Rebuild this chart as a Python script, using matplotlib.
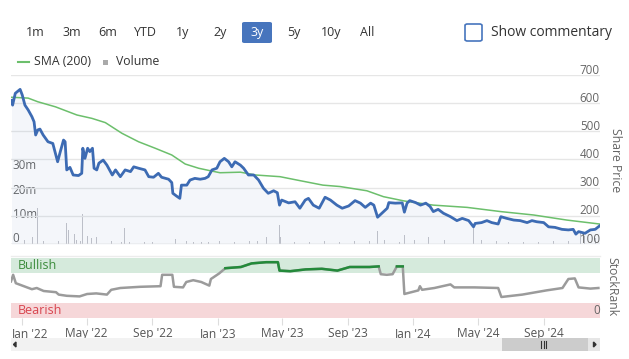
import matplotlib.pyplot as plt
from matplotlib.patches import Rectangle, FancyBboxPatch, Polygon
from matplotlib.lines import Line2D
from matplotlib.transforms import ScaledTranslation
import numpy as np
import pandas as pd

# share price
price_dates = [
    '2021-12-12', '2021-12-14', '2021-12-19', '2021-12-28', '2022-01-01', '2022-01-06',
    '2022-01-12', '2022-01-19', '2022-01-23', '2022-01-26', '2022-01-30', '2022-02-03',
    '2022-02-09', '2022-02-18', '2022-02-27', '2022-03-08', '2022-03-13', '2022-03-19',
    '2022-03-22', '2022-03-25', '2022-03-31', '2022-04-06', '2022-04-16', '2022-04-22',
    '2022-04-24', '2022-04-28', '2022-05-03', '2022-05-07', '2022-05-12', '2022-05-15',
    '2022-05-20', '2022-05-24', '2022-06-01', '2022-06-08', '2022-06-18', '2022-06-24',
    '2022-07-03', '2022-07-12', '2022-07-22', '2022-07-28', '2022-08-06', '2022-08-18',
    '2022-08-25', '2022-09-03', '2022-09-12', '2022-09-18', '2022-10-01', '2022-10-07',
    '2022-10-09', '2022-10-16', '2022-10-22', '2022-10-25', '2022-11-04', '2022-11-10',
    '2022-11-19', '2022-11-29', '2022-12-08', '2022-12-14', '2022-12-21', '2022-12-30',
    '2023-01-05', '2023-01-13', '2023-01-21', '2023-01-27', '2023-02-02', '2023-02-12',
    '2023-02-18', '2023-02-27', '2023-03-09', '2023-03-18', '2023-03-27', '2023-04-05',
    '2023-04-15', '2023-04-22', '2023-04-26', '2023-04-30', '2023-05-13', '2023-05-25',
    '2023-06-03', '2023-06-13', '2023-06-19', '2023-06-28', '2023-07-09', '2023-07-20',
    '2023-07-30', '2023-08-11', '2023-08-21', '2023-09-02', '2023-09-14', '2023-09-24',
    '2023-10-03', '2023-10-13', '2023-10-19', '2023-10-26', '2023-11-03', '2023-11-13',
    '2023-11-16', '2023-11-28', '2023-12-11', '2023-12-15', '2023-12-20', '2023-12-25',
    '2024-01-05', '2024-01-14', '2024-01-24', '2024-02-01', '2024-02-07', '2024-02-16',
    '2024-02-26', '2024-03-10', '2024-03-22', '2024-04-01', '2024-04-13', '2024-04-22',
    '2024-04-25', '2024-05-07', '2024-05-17', '2024-05-26', '2024-06-07', '2024-06-12',
    '2024-06-23', '2024-07-06', '2024-07-18', '2024-07-31', '2024-08-09', '2024-08-18',
    '2024-08-31', '2024-09-09', '2024-09-21', '2024-10-04', '2024-10-16', '2024-10-25',
    '2024-10-30', '2024-11-04', '2024-11-16', '2024-11-26', '2024-12-05', '2024-12-13',
]
price = [
    610, 593, 635, 649, 629, 593,
    576, 552, 534, 487, 505, 508,
    487, 463, 457, 392, 428, 469,
    463, 363, 372, 345, 343, 351,
    440, 404, 440, 428, 440, 369,
    363, 387, 398, 380, 345, 363,
    339, 363, 357, 374, 369, 363,
    339, 337, 351, 337, 330, 318,
    280, 270, 262, 309, 309, 327,
    333, 330, 333, 339, 363, 369,
    392, 404, 392, 374, 392, 380,
    369, 345, 345, 327, 298, 280,
    289, 282, 238, 256, 246, 250,
    227, 256, 262, 238, 227, 266,
    256, 238, 227, 235, 254, 245,
    230, 245, 238, 195, 209, 227,
    247, 245, 246, 213, 245, 254,
    247, 238, 245, 233, 215, 223,
    209, 197, 183, 191, 183, 161,
    173, 176, 183, 176, 171, 197,
    191, 185, 183, 176, 183, 179,
    176, 161, 159, 152, 150, 152,
    135, 144, 138, 150, 152, 164,
]

# 200 day simple moving average
sma_dates = [
    '2021-12-11', '2022-01-12', '2022-01-30', '2022-03-04', '2022-04-13', '2022-05-11',
    '2022-06-05', '2022-07-06', '2022-08-06', '2022-09-06', '2022-10-07', '2022-11-01',
    '2022-11-26', '2022-12-18', '2023-01-05', '2023-02-12', '2023-03-12', '2023-04-27',
    '2023-06-03', '2023-07-16', '2023-08-17', '2023-10-06', '2023-11-06', '2023-12-14',
    '2024-02-07', '2024-04-10', '2024-06-12', '2024-08-12', '2024-10-13', '2024-12-13',
]
sma = [
    621, 618, 605, 587, 558, 546,
    531, 493, 463, 440, 416, 384,
    369, 360, 353, 355, 345, 339,
    325, 309, 304, 289, 268, 253,
    238, 230, 215, 203, 185, 171,
]

# volume, millions of shares
vol_dates = [
    '2021-12-15', '2021-12-22', '2022-01-05', '2022-01-12', '2022-01-20', '2022-01-29',
    '2022-02-03', '2022-02-10', '2022-02-22', '2022-03-03', '2022-03-09', '2022-03-25',
    '2022-03-28', '2022-04-09', '2022-04-12', '2022-04-20', '2022-04-24', '2022-04-28',
    '2022-05-03', '2022-05-10', '2022-05-17', '2022-05-20', '2022-05-30', '2022-06-08',
    '2022-06-16', '2022-06-27', '2022-07-05', '2022-07-11', '2022-07-20', '2022-08-03',
    '2022-08-17', '2022-09-01', '2022-09-15', '2022-09-28', '2022-10-11', '2022-10-14',
    '2022-10-24', '2022-11-03', '2022-11-17', '2022-12-01', '2022-12-15', '2023-01-04',
    '2023-01-18', '2023-02-01', '2023-02-15', '2023-03-01', '2023-03-16', '2023-04-02',
    '2023-04-12', '2023-04-26', '2023-04-28', '2023-05-10', '2023-05-24', '2023-06-07',
    '2023-06-21', '2023-07-05', '2023-07-19', '2023-08-02', '2023-08-16', '2023-08-30',
    '2023-09-13', '2023-09-27', '2023-10-11', '2023-10-26', '2023-11-08', '2023-11-22',
    '2023-12-06', '2023-12-15', '2024-01-03', '2024-01-17', '2024-01-29', '2024-02-14',
    '2024-02-28', '2024-03-13', '2024-03-22', '2024-04-04', '2024-04-10', '2024-04-22',
    '2024-05-07', '2024-05-21', '2024-06-04', '2024-06-12', '2024-06-26', '2024-07-10',
    '2024-07-24', '2024-08-07', '2024-08-21', '2024-09-04', '2024-09-18', '2024-10-02',
    '2024-10-16', '2024-11-01', '2024-11-08', '2024-11-15', '2024-11-27', '2024-12-06',
    '2024-12-12',
]
volume = [
    0.8, 1.2, 1.5, 2.2, 3.0, 14.9,
    2.5, 1.2, 1.5, 2.0, 1.3, 8.6,
    6.0, 4.0, 1.8, 1.2, 12.5, 4.4,
    3.5, 2.5, 8.9, 3.0, 1.5, 2.0,
    1.2, 1.4, 1.0, 6.8, 0.8, 0.6,
    0.7, 0.8, 0.9, 0.7, 3.0, 2.2,
    1.5, 1.2, 0.9, 0.8, 1.0, 1.2,
    0.8, 1.0, 0.9, 1.1, 1.3, 2.8,
    1.5, 7.9, 2.8, 1.5, 1.0, 1.2,
    1.0, 0.9, 1.3, 0.8, 1.0, 0.9,
    1.2, 1.0, 1.4, 5.5, 1.5, 1.2,
    1.0, 3.7, 1.5, 1.2, 2.8, 1.5,
    1.8, 3.7, 7.2, 24.6, 2.5, 6.5,
    1.5, 1.2, 1.4, 2.5, 1.0, 1.2,
    0.9, 1.1, 1.0, 1.5, 1.2, 1.6,
    1.4, 5.1, 4.4, 3.4, 1.8, 2.5,
    2.0,
]

# StockRank (0-100)
rank_dates = [
    '2021-12-11', '2021-12-15', '2021-12-20', '2022-01-04', '2022-01-19', '2022-01-28',
    '2022-02-10', '2022-03-05', '2022-03-10', '2022-03-25', '2022-04-18', '2022-05-02',
    '2022-05-19', '2022-06-08', '2022-06-16', '2022-07-03', '2022-08-09', '2022-09-16',
    '2022-09-19', '2022-10-08', '2022-10-11', '2022-10-28', '2022-11-03', '2022-11-16',
    '2022-12-01', '2022-12-16', '2022-12-19', '2023-01-03', '2023-01-15', '2023-02-13',
    '2023-03-05', '2023-04-01', '2023-04-23', '2023-04-26', '2023-05-16', '2023-06-14',
    '2023-07-14', '2023-08-12', '2023-09-04', '2023-10-11', '2023-10-28', '2023-11-01',
    '2023-11-12', '2023-11-23', '2023-12-01', '2023-12-12', '2023-12-15', '2024-01-10',
    '2024-01-13', '2024-01-17', '2024-02-09', '2024-03-10', '2024-03-17', '2024-04-24',
    '2024-06-07', '2024-06-13', '2024-07-22', '2024-09-05', '2024-10-05', '2024-10-16',
    '2024-10-28', '2024-11-04', '2024-11-26', '2024-12-11',
]
rank = [
    61, 72, 58, 53, 48, 50,
    45, 43, 39, 37, 36, 40,
    41, 39, 47, 50, 52, 53,
    72, 72, 52, 51, 60, 63,
    60, 54, 65, 74, 83, 85,
    91, 93, 93, 79, 78, 81,
    82, 79, 85, 85, 86, 73,
    72, 73, 86, 86, 40, 46,
    53, 47, 50, 56, 51, 51,
    50, 35, 39, 46, 50, 65,
    66, 51, 49, 50,
]

tick_dates = ['2022-01-01', '2022-05-01', '2022-09-01', '2023-01-01', '2023-05-01',
              '2023-09-01', '2024-01-01', '2024-05-01', '2024-09-01']
tick_labels = ["Jan '22", "May '22", "Sep '22", "Jan '23", "May '23",
               "Sep '23", "Jan '24", "May '24", "Sep '24"]
ranges = ['1m', '3m', '6m', 'YTD', '1y', '2y', '3y', '5y', '10y', 'All']

plt.rcParams['font.family'] = ['Open Sans', 'DejaVu Sans']

W, H = 629, 359


def fx(px):
    return px / W


def fy(py):
    return 1 - py / H


price_x = pd.to_datetime(price_dates)
sma_x = pd.to_datetime(sma_dates)
vol_x = pd.to_datetime(vol_dates)
rank_x = pd.to_datetime(rank_dates)
ticks = pd.to_datetime(tick_dates)
xmin, xmax = pd.Timestamp('2021-12-11'), pd.Timestamp('2024-12-14')

fig = plt.figure(figsize=(W / 100, H / 100), dpi=100)

blue = '#3d6bb3'
label_col = '#666666'

# ---- volume (underneath) ----
rect = [fx(11), fy(244), (600 - 11) / W, (244 - 75) / H]
axv = fig.add_axes(rect, zorder=1)
axv.bar(vol_x, np.array(volume) * 1e6, width=1.3, color='#c4c4ca', linewidth=0)
axv.set_ylim(0, 70e6)
axv.set_xlim(xmin, xmax)
axv.axis('off')
for v, lbl in [(0, '0'), (10e6, '10m'), (20e6, '20m'), (30e6, '30m')]:
    axv.text(0.003, v + 0.9e6, lbl, transform=axv.get_yaxis_transform(),
             ha='left', va='baseline', fontsize=8.4, color=label_col)

# ---- price ----
ax = fig.add_axes(rect, zorder=2)
ax.patch.set_alpha(0)
ax.set_xlim(xmin, xmax)
ax.set_ylim(100, 700)
for v in range(100, 701, 100):
    ax.axhline(v, color='#e6e6e6', lw=1, zorder=0)
    ax.text(1.0, v + 5, str(v), transform=ax.get_yaxis_transform(),
            ha='right', va='baseline', fontsize=8.4, color=label_col)
ax.fill_between(price_x, price, 100, color=blue, alpha=0.055, lw=0)
ax.plot(sma_x, sma, color='#6cbf6c', lw=1.1, zorder=3)
ax.plot(price_x, price, color=blue, lw=2, zorder=4)
ax.set_xticks([])
ax.set_yticks([])
for s in ax.spines.values():
    s.set_visible(False)
ax.axhline(100, color='#dcdcdc', lw=1)
fig.text(fx(615), fy(160), 'Share Price', rotation=270, ha='center', va='center',
         fontsize=8.8, color=label_col)

# ---- StockRank panel ----
axr = fig.add_axes([fx(11), fy(318), (600 - 11) / W, 60 / H])
axr.set_xlim(xmin, xmax)
axr.set_ylim(0, 100)
axr.axhspan(75, 100, color='#d5eadc', lw=0)
axr.axhspan(0, 25, color='#f6d7d9', lw=0)
axr.plot(rank_x, rank, color='#9b9b9b', lw=1.8)
rank_arr = np.array(rank, dtype=float)
bull = np.where(rank_arr >= 75, rank_arr, np.nan)
axr.plot(rank_x, bull, color='#238a3a', lw=1.8)
axr.text(0.012, 87.5, 'Bullish', transform=axr.get_yaxis_transform(),
         ha='left', va='center', fontsize=9, color='#3c8c3c')
axr.text(0.012, 12.5, 'Bearish', transform=axr.get_yaxis_transform(),
         ha='left', va='center', fontsize=9, color='#d8454f')
axr.text(1.0, 12, '0', transform=axr.get_yaxis_transform(),
         ha='right', va='center', fontsize=8.4, color=label_col)
axr.set_yticks([])
axr.set_xticks(ticks)
axr.set_xticklabels(tick_labels)
axr.tick_params(axis='x', length=5, color='#dddddd', labelcolor='#555555',
                labelsize=8.6, pad=1.5)
first = axr.get_xticklabels()[0]
first.set_transform(first.get_transform() + ScaledTranslation(0.08, 0, fig.dpi_scale_trans))
for s in axr.spines.values():
    s.set_visible(False)
fig.add_artist(Line2D([fx(11), fx(600)], [fy(256), fy(256)], color='#ececec', lw=1))
fig.text(fx(612), fy(287), 'StockRank', rotation=270, ha='center', va='center',
         fontsize=8.8, color=label_col)

# ---- scrollbar ----
fig.add_artist(Rectangle((fx(11), fy(351)), (600 - 11) / W, 13 / H,
                         transform=fig.transFigure, color='#f2f2f2', lw=0))
fig.add_artist(Rectangle((fx(502), fy(351)), (588 - 502) / W, 13 / H,
                         transform=fig.transFigure, color='#cccccc', lw=0))
fig.add_artist(Rectangle((fx(588), fy(351)), 12 / W, 13 / H,
                         transform=fig.transFigure, color='#e6e6e6', lw=0))
fig.add_artist(Polygon([[fx(13.5), fy(344.5)], [fx(16), fy(342)], [fx(16), fy(347)]],
                       closed=True, transform=fig.transFigure, color='#333333'))
fig.add_artist(Polygon([[fx(596), fy(344.5)], [fx(593.5), fy(342)], [fx(593.5), fy(347)]],
                       closed=True, transform=fig.transFigure, color='#333333'))
for gx in (541, 543.5, 546):
    fig.add_artist(Line2D([fx(gx), fx(gx)], [fy(341), fy(348)], color='#333333', lw=0.8))

# ---- range buttons ----
btn_x = [35, 72, 108, 145, 183, 220, 257, 294, 331, 367]
fig.add_artist(FancyBboxPatch((fx(242), fy(43)), (272 - 242) / W, 21 / H,
                              boxstyle='round,pad=0,rounding_size=0.004',
                              transform=fig.transFigure, color='#4775bd', lw=0))
for bx, txt in zip(btn_x, ranges):
    fig.text(fx(bx), fy(32.5), txt, ha='center', va='center', fontsize=9,
             color='white' if txt == '3y' else '#333333')

# show commentary checkbox
fig.add_artist(FancyBboxPatch((fx(465), fy(41)), 17 / W, 17 / H,
                              boxstyle='round,pad=0,rounding_size=0.004',
                              transform=fig.transFigure, facecolor='white',
                              edgecolor='#4775bd', lw=1.2))
fig.text(fx(491), fy(32.5), 'Show commentary', ha='left', va='center',
         fontsize=10, color='#333333')

# legend
fig.add_artist(Line2D([fx(18), fx(29)], [fy(62), fy(62)], color='#6cbf6c', lw=1.5))
fig.text(fx(34), fy(61.5), 'SMA (200)', ha='left', va='center', fontsize=8.8, color='#333333')
fig.add_artist(Rectangle((fx(103), fy(65)), 5 / W, 5 / H, transform=fig.transFigure,
                         color='#aaaaaa', lw=0))
fig.text(fx(116), fy(61.5), 'Volume', ha='left', va='center', fontsize=8.8, color='#333333')

fig.savefig('out.png', dpi=100)
